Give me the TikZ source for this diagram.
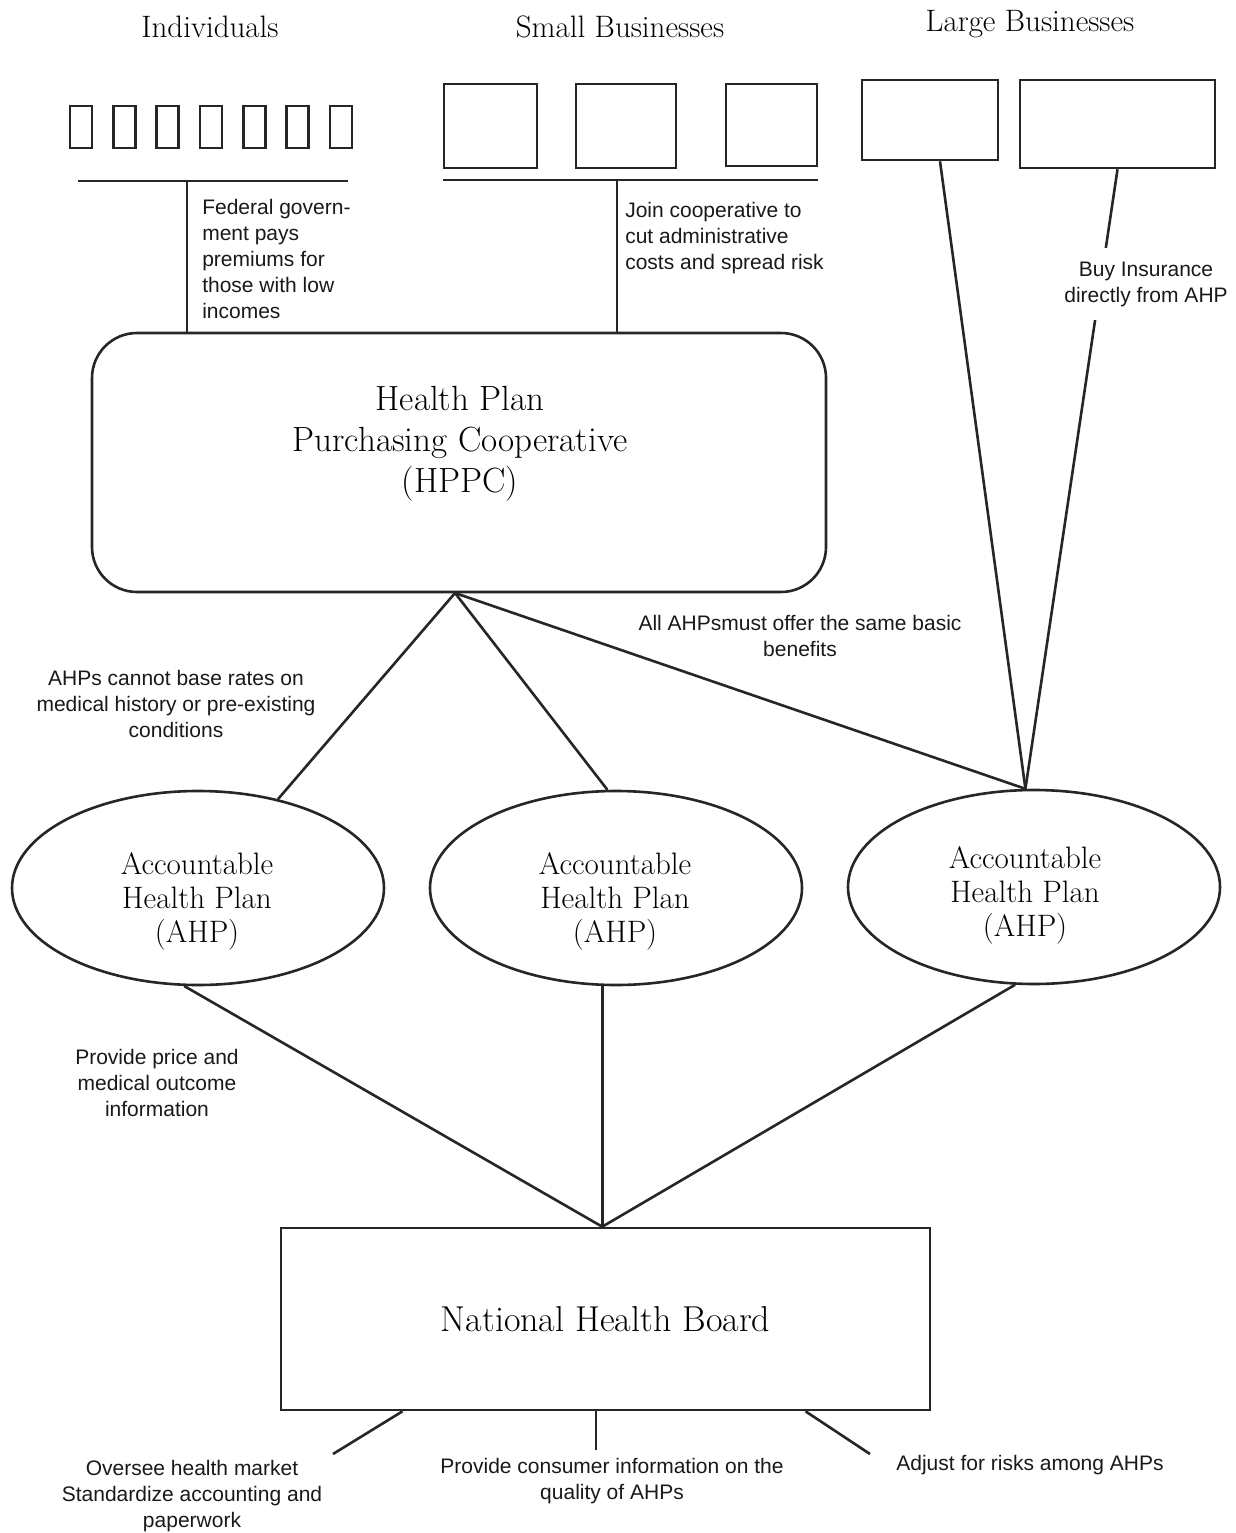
\documentclass[tikz,border=0pt]{standalone}
\usepackage{fontspec}
\newfontfamily\labfont{Liberation Sans}
\usetikzlibrary{shapes.geometric}
\begin{document}
\begin{tikzpicture}[x=1pt,y=-1pt,
  every path/.style={line width=2.6pt},
  ln/.style={draw=black!85,line width=2.6pt},
  boxn/.style={draw=black!85,line width=2.6pt,inner sep=0pt},
  ahpn/.style={ellipse,draw=black!85,line width=2.6pt,inner sep=0pt,minimum width=372pt,minimum height=194pt},
  head/.style={font=\fontsize{31}{34}\selectfont,inner sep=0pt},
  big/.style={font=\fontsize{31}{34}\selectfont,align=center,inner sep=0pt},
  lab/.style={font=\labfont\fontsize{21}{26}\selectfont,inner sep=0pt,text=black!90}
]
\useasboundingbox (0,0) rectangle (1236,1533);
\fill[white] (0,0) rectangle (1236,1533);

% headings
\node[head] (hInd) at (210,27) {Individuals};
\node[head] (hSmall) at (620,27) {Small Businesses};
\node[head] (hLarge) at (1030,24) {Large Businesses};

% individual boxes
\foreach \i in {0,...,6}{
  \node[boxn,minimum width=22pt,minimum height=42pt] (ind\i) at ({81+43.3*\i},127) {};
}
\coordinate (ibL) at (78,181);
\coordinate (ibR) at (348,181);
\coordinate (ibJ) at (187,181);
\draw[ln] (ibL) -- (ibR);

% small business boxes
\node[boxn,minimum width=93pt,minimum height=84pt] (sb1) at (490.5,126) {};
\node[boxn,minimum width=100pt,minimum height=84pt] (sb2) at (626,126) {};
\node[boxn,minimum width=91pt,minimum height=82pt] (sb3) at (771.5,125) {};
\coordinate (sbL) at (443,180);
\coordinate (sbR) at (818,180);
\coordinate (sbJ) at (617,180);
\draw[ln] (sbL) -- (sbR);

% large business boxes
\node[boxn,minimum width=136pt,minimum height=80pt] (lb1) at (930,120) {};
\node[boxn,minimum width=195pt,minimum height=88pt] (lb2) at (1117.5,124) {};

% HPPC
\node[boxn,rounded corners=45pt,minimum width=734pt,minimum height=259pt] (hppc) at (459,462.5) {};
\node[font=\fontsize{35}{41}\selectfont,align=center,inner sep=0pt] (hppctext) at (460,444) {Health Plan\\Purchasing Cooperative\\(HPPC)};

\draw[ln] (ibJ) -- (ibJ |- hppc.north);
\draw[ln] (sbJ) -- (sbJ |- hppc.north);

% AHP ellipses
\node[ahpn] (ahp1) at (198,888) {};
\node[ahpn] (ahp2) at (616,888) {};
\node[ahpn] (ahp3) at (1034,887) {};
\node[big] (t1) at (197,901) {Accountable\\Health Plan\\(AHP)};
\node[big] (t2) at (615,901) {Accountable\\Health Plan\\(AHP)};
\node[big] (t3) at (1025,895) {Accountable\\Health Plan\\(AHP)};

% HPPC to AHPs
\coordinate (apex) at (455,593);
\draw[ln] (apex) -- (ahp1.48.7);
\draw[ln] (apex) -- (ahp2.95);
\draw[ln] (apex) -- (ahp3.95);

% large businesses to AHP
\draw[ln] ([xshift=10pt]lb1.south) -- (ahp3.95);
\draw[ln] (lb2.south) -- (ahp3.95);

% labels
\node[lab,align=left,anchor=west] (lFed) at (201,259) {Federal govern-\\ment pays\\premiums for\\those with low\\incomes};
\node[lab,align=left,anchor=west] (lJoin) at (624,238) {Join cooperative to\\cut administrative\\costs and spread risk};
\node[lab,align=center,fill=white,inner xsep=2pt,inner ysep=14pt] (lBuy) at (1146,284) {Buy Insurance\\directly from AHP};
\node[lab,align=center] (lCannot) at (176,704) {AHPs cannot base rates on\\medical history or pre-existing\\conditions};
\node[lab,align=center] (lAll) at (800,636) {All AHPsmust offer the same basic\\benefits};
\node[lab,align=center] (lPrice) at (157,1083) {Provide price and\\medical outcome\\information};

% National Health Board
\node[boxn,minimum width=649pt,minimum height=182pt,font=\fontsize{36}{40}\selectfont] (nhb) at (605.5,1319) {National Health Board};
\coordinate (nApex) at (ahp2.262 |- nhb.north);
\draw[ln] (ahp1.262) -- (nApex);
\draw[ln] (ahp2.262) -- (nApex);
\draw[ln] (ahp3.259) -- (nApex);

% bottom
\coordinate (e1) at (333,1454);
\coordinate (e2) at (596,1450);
\coordinate (e3) at (870,1454);
\draw[ln] ([xshift=-203pt]nhb.south) -- (e1);
\draw[ln] ([xshift=-9.5pt]nhb.south) -- (e2);
\draw[ln] ([xshift=200pt]nhb.south) -- (e3);
\node[lab,align=center] (lOver) at (192,1496) {Oversee health market\\Standardize accounting and\\paperwork};
\node[lab,align=center] (lCons) at (612,1481) {Provide consumer information on the\\quality of AHPs};
\node[lab,align=center] (lAdj) at (1030,1465) {Adjust for risks among AHPs};
\end{tikzpicture}
\end{document}
